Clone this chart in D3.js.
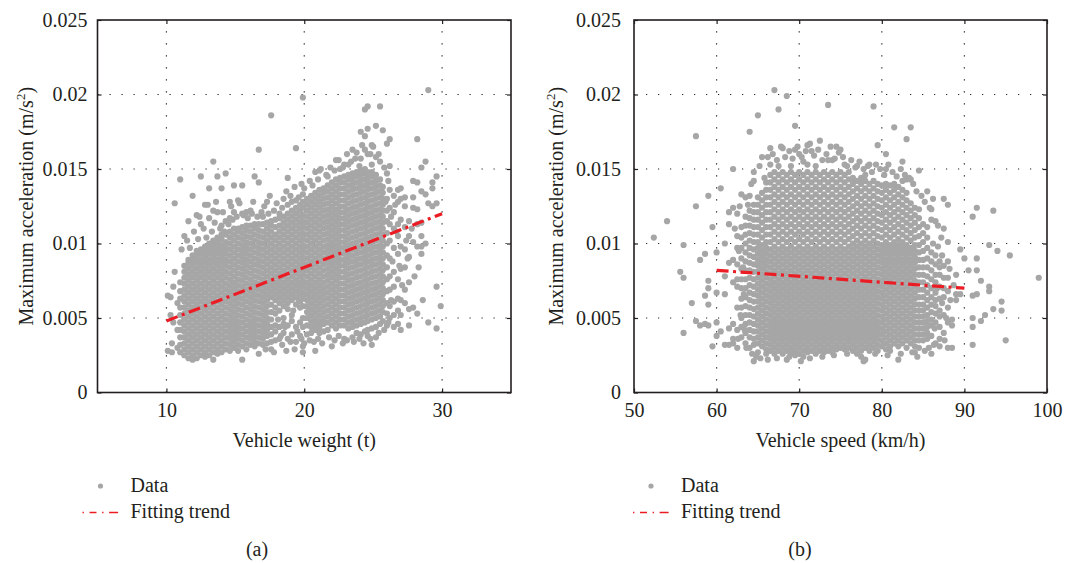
<!DOCTYPE html>
<html>
<head>
<meta charset="utf-8">
<script src="https://cdn.jsdelivr.net/npm/d3@7"></script>
<style>
  body { margin: 0; background: #fff; }
  svg text { font-family: "Liberation Serif", "Times New Roman", serif; fill: #231f20; }
</style>
</head>
<body>
<script>
// acceleration values are in units of 1e-4 m/s^2, grouped by x column
var weightCols = [
  [10.1, [65, 28]], [10.3, [64, 52]], [10.4, [33, 27]], [10.5, [47, 71]], [10.6, [127, 81]], [10.8, [60, 42, 30]],
  [11.0, [143, 74, 68, 63, 57, 52, 47, 42, 37, 32, 27]],
  [11.3, [105, 85, 81, 77, 73, 69, 65, 61, 57, 53, 49, 45, 41, 37, 33, 29, 25]],
  [11.6, [115, 89, 87, 83, 79, 75, 71, 67, 63, 59, 55, 51, 47, 43, 39, 35, 31, 27, 23]],
  [11.9, [132, 92, 89, 85, 81, 77, 73, 69, 65, 61, 57, 53, 49, 45, 41, 37, 33, 29, 25, 22]],
  [12.2, [119, 95, 91, 87, 83, 79, 75, 71, 67, 63, 59, 55, 51, 47, 43, 39, 35, 31, 27, 23]],
  [12.5, [145, 113, 96, 93, 89, 85, 81, 77, 73, 69, 65, 61, 57, 53, 49, 45, 41, 37, 33, 29, 25]],
  [12.8, [126, 98, 95, 91, 87, 83, 79, 75, 71, 67, 63, 59, 55, 51, 47, 43, 39, 35, 31, 27, 24]],
  [13.1, [137, 117, 100, 97, 93, 89, 85, 81, 77, 73, 69, 65, 61, 57, 53, 49, 45, 41, 37, 33, 29, 25]],
  [13.4, [155, 122, 102, 99, 95, 91, 87, 83, 79, 75, 71, 67, 63, 59, 55, 51, 47, 43, 39, 35, 31, 27, 22]],
  [13.7, [145, 121, 104, 101, 97, 93, 89, 85, 81, 77, 73, 69, 65, 61, 57, 53, 49, 45, 41, 37, 33, 29, 26]],
  [14.0, [137, 112, 106, 103, 99, 95, 91, 87, 83, 79, 75, 71, 67, 63, 59, 55, 51, 47, 43, 39, 35, 31, 27]],
  [14.3, [147, 115, 106, 101, 97, 93, 89, 85, 81, 77, 73, 69, 65, 61, 57, 53, 49, 45, 41, 37, 33, 29]],
  [14.6, [128, 117, 108, 104, 100, 96, 92, 88, 84, 80, 76, 72, 68, 64, 60, 56, 52, 48, 44, 40, 36, 32, 28]],
  [14.9, [139, 121, 110, 106, 102, 98, 94, 90, 86, 82, 78, 74, 70, 66, 62, 58, 54, 50, 46, 42, 38, 34, 30]],
  [15.2, [129, 110, 108, 104, 100, 96, 92, 88, 84, 80, 76, 72, 68, 64, 60, 56, 52, 48, 44, 40, 36, 32, 28]],
  [15.5, [139, 120, 111, 107, 103, 99, 95, 91, 87, 83, 79, 75, 71, 67, 63, 59, 55, 51, 47, 43, 39, 35, 31, 22]],
  [15.8, [121, 112, 109, 105, 101, 97, 93, 89, 85, 81, 77, 73, 69, 65, 61, 57, 53, 49, 45, 41, 37, 33, 29]],
  [16.1, [122, 112, 108, 104, 100, 96, 92, 88, 84, 80, 76, 72, 68, 64, 60, 56, 52, 48, 44, 40, 36, 32]],
  [16.4, [145, 113, 110, 106, 102, 98, 94, 90, 86, 82, 78, 74, 70, 66, 62, 58, 54, 50, 46, 42, 38, 34, 31]],
  [16.7, [163, 141, 113, 109, 105, 101, 97, 93, 89, 85, 81, 77, 73, 69, 65, 61, 57, 53, 49, 45, 41, 37, 33, 26]],
  [17.0, [118, 113, 108, 104, 100, 96, 92, 88, 84, 80, 76, 72, 68, 64, 60, 56, 52, 48, 44, 40, 36, 32]],
  [17.3, [128, 114, 110, 106, 102, 98, 94, 90, 86, 82, 78, 74, 70, 66, 62, 58, 54, 50, 46, 42, 38, 33]],
  [17.6, [186, 115, 112, 108, 104, 100, 96, 92, 88, 84, 80, 76, 72, 68, 64, 59, 54, 49, 44, 39, 34, 29]],
  [17.9, [116, 111, 106, 102, 98, 94, 90, 86, 82, 78, 74, 70, 66, 62, 57, 53, 45, 41, 35]],
  [18.2, [120, 117, 112, 108, 104, 100, 96, 92, 88, 84, 80, 76, 72, 68, 64, 60, 55, 44, 36]],
  [18.5, [130, 118, 114, 110, 106, 102, 98, 94, 90, 86, 82, 78, 74, 70, 66, 62, 58, 50, 46, 40]],
  [18.8, [144, 126, 120, 116, 112, 108, 104, 100, 96, 92, 88, 84, 80, 76, 72, 68, 64, 60, 56, 45, 36]],
  [19.1, [128, 122, 118, 114, 110, 106, 102, 98, 94, 90, 86, 82, 78, 74, 70, 66, 62, 52, 48, 39]],
  [19.4, [164, 129, 124, 120, 116, 112, 108, 104, 100, 96, 92, 88, 84, 80, 76, 72, 68, 64, 59, 44, 34]],
  [19.7, [126, 122, 118, 114, 110, 106, 102, 98, 94, 90, 86, 82, 78, 74, 70, 66, 61, 57, 47, 38]],
  [19.9, [198, 133, 128, 124, 119, 115, 111, 107, 103, 99, 95, 91, 87, 83, 79, 75, 71, 67, 63, 58, 50, 44, 31, 27]],
  [20.2, [130, 126, 122, 118, 114, 110, 106, 102, 98, 94, 90, 86, 82, 78, 74, 70, 66, 62, 58, 54, 50, 45, 39]],
  [20.5, [132, 128, 124, 120, 116, 112, 108, 104, 100, 96, 92, 88, 84, 80, 76, 72, 68, 64, 60, 56, 52, 48, 44, 40]],
  [20.8, [148, 134, 130, 126, 122, 118, 114, 110, 106, 102, 98, 94, 90, 86, 82, 78, 74, 70, 66, 62, 58, 54, 50, 46, 42, 28]],
  [21.1, [149, 136, 132, 128, 124, 120, 116, 112, 108, 104, 100, 96, 92, 88, 84, 80, 76, 72, 68, 64, 60, 56, 52, 48, 44, 40]],
  [21.4, [137, 134, 130, 126, 122, 118, 114, 110, 106, 102, 98, 94, 90, 86, 82, 78, 74, 70, 66, 62, 58, 54, 50, 46, 41]],
  [21.7, [145, 139, 135, 131, 127, 123, 119, 115, 111, 107, 103, 99, 95, 91, 87, 83, 79, 75, 71, 67, 63, 59, 55, 51, 47, 42]],
  [22.0, [141, 137, 133, 129, 125, 121, 117, 113, 109, 105, 101, 97, 93, 89, 85, 81, 77, 73, 69, 65, 61, 57, 53, 49, 45, 31]],
  [22.3, [156, 143, 139, 135, 131, 127, 123, 119, 115, 111, 107, 103, 99, 95, 91, 87, 83, 79, 75, 71, 67, 63, 59, 55, 51, 47, 43]],
  [22.6, [150, 144, 141, 137, 133, 129, 125, 121, 117, 113, 109, 105, 101, 97, 93, 89, 85, 81, 77, 73, 69, 65, 61, 57, 53, 49, 45]],
  [22.9, [153, 145, 141, 137, 133, 129, 125, 121, 117, 113, 109, 105, 101, 97, 93, 89, 85, 81, 77, 73, 69, 65, 61, 57, 53, 49, 45, 36]],
  [23.2, [153, 146, 143, 139, 135, 131, 127, 123, 119, 115, 111, 107, 103, 99, 95, 91, 87, 83, 79, 75, 71, 67, 63, 59, 55, 51, 47, 43]],
  [23.5, [163, 147, 144, 140, 136, 132, 128, 124, 120, 116, 112, 108, 104, 100, 96, 92, 88, 84, 80, 76, 72, 68, 64, 60, 56, 52, 48, 44, 37]],
  [23.8, [161, 148, 145, 141, 137, 133, 129, 125, 121, 117, 113, 109, 105, 101, 97, 93, 89, 85, 81, 77, 73, 69, 65, 61, 57, 53, 49, 45, 40]],
  [24.1, [175, 157, 149, 146, 142, 138, 134, 130, 126, 122, 118, 114, 110, 106, 102, 98, 94, 90, 86, 82, 78, 74, 70, 66, 62, 58, 54, 50, 46, 39]],
  [24.4, [190, 172, 163, 150, 147, 143, 139, 135, 131, 127, 123, 119, 115, 111, 107, 103, 99, 95, 91, 87, 83, 79, 75, 71, 67, 63, 59, 55, 51, 47, 41]],
  [24.6, [192, 177, 160, 148, 144, 140, 136, 132, 128, 124, 120, 116, 112, 108, 104, 100, 96, 92, 88, 84, 80, 76, 72, 68, 64, 60, 56, 52, 48, 42, 38]],
  [24.9, [166, 153, 148, 145, 141, 137, 133, 129, 125, 121, 117, 113, 109, 105, 101, 97, 93, 89, 85, 81, 77, 73, 69, 65, 61, 57, 53, 49, 43, 32]],
  [25.2, [179, 158, 146, 142, 138, 134, 130, 126, 122, 118, 114, 110, 106, 102, 98, 94, 90, 86, 82, 78, 74, 70, 66, 62, 58, 54, 50, 44]],
  [25.5, [192, 155, 143, 139, 135, 131, 127, 123, 119, 115, 111, 107, 103, 99, 95, 91, 87, 83, 79, 75, 71, 67, 63, 59, 55, 51, 46]],
  [25.7, [176, 138, 134, 130, 126, 122, 118, 114, 110, 106, 102, 98, 94, 90, 86, 82, 78, 74, 70, 66, 62, 58, 54, 48]],
  [26.0, [167, 147, 130, 122, 115, 107, 100, 92, 84, 76, 68, 60, 53, 45]],
  [26.2, [170, 152, 136, 124, 113, 102, 90, 78, 69, 58, 50]],
  [26.5, [132, 121, 110, 97, 81, 71, 61, 52, 44]],
  [26.8, [136, 128, 113, 105, 93, 76, 63, 55, 46]],
  [27.0, [137, 130, 116, 98, 83, 62, 52, 42]],
  [27.3, [131, 125, 111, 96, 84, 69, 60]],
  [27.6, [115, 105, 91, 74, 56, 45]],
  [27.9, [142, 131, 124, 101, 57]],
  [28.2, [170, 141, 123, 113, 98, 53]],
  [28.5, [151, 135, 114, 105, 98, 93]],
  [28.8, [155, 133, 100]],
  [29.0, [203, 127, 47]],
  [29.3, [141, 137, 125]],
  [29.6, [145, 127, 71, 43]],
  [29.9, [58]]
];

// scattered points round the edge of the weight cloud, [t, 1e-4 m/s^2]
var weightFringe = [
  [11.1, 96], [11.5, 102], [11.7, 97], [12.0, 108], [12.3, 103], [12.4, 118], [12.7, 110], [12.9, 104],
  [13.0, 126], [13.3, 108], [13.5, 114], [13.6, 128], [13.9, 110], [14.1, 121], [14.2, 108], [14.5, 113],
  [14.7, 125], [14.8, 116], [15.1, 118], [15.3, 127], [15.6, 119], [15.9, 117], [16.2, 120], [16.3, 128],
  [16.6, 118], [16.9, 121], [17.1, 125], [17.4, 120], [17.5, 132], [17.8, 122], [18.0, 127], [18.4, 124],
  [18.7, 135], [19.0, 132], [19.3, 138], [19.6, 131], [19.8, 140], [20.0, 137], [20.4, 142], [20.6, 139],
  [21.0, 143], [21.2, 150], [21.6, 146], [21.9, 151], [22.2, 149], [22.5, 156], [22.8, 151], [23.1, 160],
  [23.4, 155], [23.7, 157], [24.0, 152], [24.2, 166], [24.8, 160], [25.0, 165], [25.4, 160], [25.8, 151],
  [26.1, 142], [25.9, 128], [17.2, 29], [17.8, 27], [18.4, 32], [18.7, 28], [19.0, 34], [19.3, 29],
  [19.8, 36], [20.0, 33], [20.4, 35], [20.7, 34], [21.0, 36], [21.3, 33], [21.8, 37], [22.2, 35],
  [22.5, 38], [22.8, 33], [23.1, 35], [23.6, 34], [24.0, 36], [24.3, 33], [24.8, 36], [25.2, 37],
  [25.4, 40], [25.8, 42], [26.1, 47], [26.3, 62], [26.4, 88], [26.7, 108], [26.3, 118], [26.6, 126],
  [26.9, 85], [27.1, 72], [27.4, 102], [27.5, 90], [27.8, 110], [28.0, 78], [28.3, 84], [28.6, 62],
  [18.1, 49], [18.6, 44], [19.2, 55], [19.5, 41], [18.3, 38], [19.6, 62]
];

var speedCols = [
  [52.4, [104]], [54.0, [115]], [55.6, [81]], [56.0, [77, 99, 40]], [57.0, [60]],
  [57.5, [172, 125, 48]], [58.0, [89, 45]], [58.6, [93, 46, 65]], [59.0, [132, 75, 59, 70, 45]],
  [59.5, [111, 31]], [60.0, [94, 67, 47, 38]], [60.5, [137, 41]], [61.0, [100, 78, 66, 32]],
  [61.5, [121, 113, 87, 43, 32]],
  [62.0, [150, 124, 89, 74, 46, 36, 33]],
  [62.5, [120, 105, 97, 86, 76, 71, 57, 42, 30]],
  [63.0, [133, 111, 104, 97, 90, 83, 76, 70, 63, 57, 50, 44, 37]],
  [63.5, [131, 118, 112, 106, 100, 94, 88, 82, 76, 70, 64, 58, 52, 46, 40, 33]],
  [64.0, [175, 132, 122, 117, 112, 107, 102, 97, 92, 87, 82, 77, 72, 67, 62, 57, 52, 47, 42, 37, 30]],
  [64.5, [142, 126, 121, 116, 111, 106, 101, 96, 91, 86, 81, 76, 71, 66, 61, 56, 51, 46, 41, 36, 32, 21]],
  [65.0, [186, 131, 126, 121, 116, 111, 106, 101, 97, 93, 89, 85, 81, 77, 73, 69, 65, 61, 57, 53, 49, 45, 41, 37, 33, 27]],
  [65.5, [158, 134, 129, 124, 119, 114, 109, 104, 99, 95, 91, 87, 83, 79, 75, 71, 67, 63, 59, 55, 51, 47, 43, 39, 35, 31]],
  [66.0, [141, 136, 131, 126, 121, 116, 111, 106, 101, 97, 93, 89, 85, 81, 77, 73, 69, 65, 61, 57, 53, 49, 45, 41, 37, 33, 29, 26]],
  [66.5, [164, 153, 146, 141, 136, 131, 126, 121, 116, 111, 106, 101, 96, 92, 88, 84, 80, 76, 72, 68, 64, 60, 56, 52, 48, 44, 40, 36, 32, 28]],
  [67.0, [203, 148, 143, 138, 133, 128, 123, 118, 113, 108, 103, 98, 94, 90, 86, 82, 78, 74, 70, 66, 62, 58, 54, 50, 46, 42, 38, 34, 30, 26]],
  [67.5, [190, 152, 146, 141, 136, 131, 126, 121, 116, 111, 106, 101, 96, 92, 88, 84, 80, 76, 72, 68, 64, 60, 56, 52, 48, 44, 40, 36, 32, 28]],
  [68.0, [164, 148, 143, 138, 133, 128, 123, 118, 113, 108, 103, 98, 94, 90, 86, 82, 78, 74, 70, 66, 62, 58, 54, 50, 46, 42, 38, 34, 30, 26]],
  [68.5, [199, 146, 141, 136, 131, 126, 121, 116, 111, 106, 101, 96, 92, 88, 84, 80, 76, 72, 68, 64, 60, 56, 52, 48, 44, 40, 36, 32, 28, 22]],
  [69.0, [152, 148, 143, 138, 133, 128, 123, 118, 113, 108, 103, 98, 94, 90, 86, 82, 78, 74, 70, 66, 62, 58, 54, 50, 46, 42, 38, 34, 30, 27]],
  [69.5, [179, 163, 146, 141, 136, 131, 126, 121, 116, 111, 106, 101, 96, 92, 88, 84, 80, 76, 72, 68, 64, 60, 56, 52, 48, 44, 40, 36, 32, 28, 25]],
  [70.0, [160, 148, 143, 138, 133, 128, 123, 118, 113, 108, 103, 98, 94, 90, 86, 82, 78, 74, 70, 66, 62, 58, 54, 50, 46, 42, 38, 34, 30, 26]],
  [70.5, [155, 146, 141, 136, 131, 126, 121, 116, 111, 106, 101, 96, 92, 88, 84, 80, 76, 72, 68, 64, 60, 56, 52, 48, 44, 40, 36, 32, 28, 24]],
  [71.0, [166, 153, 148, 143, 138, 133, 128, 123, 118, 113, 108, 103, 98, 94, 90, 86, 82, 78, 74, 70, 66, 62, 58, 54, 50, 46, 42, 38, 34, 30, 27]],
  [71.5, [162, 146, 141, 136, 131, 126, 121, 116, 111, 106, 101, 96, 92, 88, 84, 80, 76, 72, 68, 64, 60, 56, 52, 48, 44, 40, 36, 32, 28]],
  [72.0, [152, 148, 143, 138, 133, 128, 123, 118, 113, 108, 103, 98, 94, 90, 86, 82, 78, 74, 70, 66, 62, 58, 54, 50, 46, 42, 38, 34, 30, 26]],
  [72.5, [169, 146, 141, 136, 131, 126, 121, 116, 111, 106, 101, 96, 92, 88, 84, 80, 76, 72, 68, 64, 60, 56, 52, 48, 44, 40, 36, 32, 28]],
  [73.0, [148, 143, 138, 133, 128, 123, 118, 113, 108, 103, 98, 94, 90, 86, 82, 78, 74, 70, 66, 62, 58, 54, 50, 46, 42, 38, 34, 30, 27]],
  [73.5, [193, 156, 146, 141, 136, 131, 126, 121, 116, 111, 106, 101, 96, 92, 88, 84, 80, 76, 72, 68, 64, 60, 56, 52, 48, 44, 40, 36, 32, 28]],
  [74.0, [156, 148, 143, 138, 133, 128, 123, 118, 113, 108, 103, 98, 94, 90, 86, 82, 78, 74, 70, 66, 62, 58, 54, 50, 46, 42, 38, 34, 30, 27]],
  [74.5, [165, 146, 141, 136, 131, 126, 121, 116, 111, 106, 101, 96, 92, 88, 84, 80, 76, 72, 68, 64, 60, 56, 52, 48, 44, 40, 36, 32, 29]],
  [75.0, [163, 148, 143, 138, 133, 128, 123, 118, 113, 108, 103, 98, 94, 90, 86, 82, 78, 74, 70, 66, 62, 58, 54, 50, 46, 42, 38, 34, 30]],
  [75.5, [153, 146, 141, 136, 131, 126, 121, 116, 111, 106, 101, 96, 92, 88, 84, 80, 76, 72, 68, 64, 60, 56, 52, 48, 44, 40, 36, 32, 29]],
  [76.0, [148, 143, 138, 133, 128, 123, 118, 113, 108, 103, 98, 94, 90, 86, 82, 78, 74, 70, 66, 62, 58, 54, 50, 46, 42, 38, 34, 30]],
  [76.5, [144, 140, 135, 130, 125, 120, 115, 110, 105, 100, 96, 92, 88, 84, 80, 76, 72, 68, 64, 60, 56, 52, 48, 44, 40, 36, 32, 28]],
  [77.0, [152, 142, 137, 132, 127, 122, 117, 112, 107, 102, 98, 94, 90, 86, 82, 78, 74, 70, 66, 62, 58, 54, 50, 46, 42, 38, 34, 30, 26]],
  [77.5, [144, 140, 135, 130, 125, 120, 115, 110, 105, 100, 96, 92, 88, 84, 80, 76, 72, 68, 64, 60, 56, 52, 48, 44, 40, 36, 32, 28, 24]],
  [78.0, [146, 142, 137, 132, 127, 122, 117, 112, 107, 102, 98, 94, 90, 86, 82, 78, 74, 70, 66, 62, 58, 54, 50, 46, 42, 38, 34, 30, 22]],
  [78.5, [153, 140, 135, 130, 125, 120, 115, 110, 105, 100, 96, 92, 88, 84, 80, 76, 72, 68, 64, 60, 56, 52, 48, 44, 40, 36, 32, 28]],
  [79.0, [192, 142, 137, 132, 127, 122, 117, 112, 107, 102, 98, 94, 90, 86, 82, 78, 74, 70, 66, 62, 58, 54, 50, 46, 42, 38, 34, 30]],
  [79.5, [166, 140, 135, 130, 125, 120, 115, 110, 105, 100, 96, 92, 88, 84, 80, 76, 72, 68, 64, 60, 56, 52, 48, 44, 40, 36, 32, 28]],
  [80.0, [139, 134, 129, 124, 119, 114, 109, 104, 99, 95, 91, 87, 83, 79, 75, 71, 67, 63, 59, 55, 51, 47, 43, 39, 35, 31]],
  [80.5, [160, 150, 140, 136, 131, 126, 121, 116, 111, 106, 101, 97, 93, 89, 85, 81, 77, 73, 69, 65, 61, 57, 53, 49, 45, 41, 37, 33, 29]],
  [81.0, [139, 134, 129, 124, 119, 114, 109, 104, 99, 95, 91, 87, 83, 79, 75, 71, 67, 63, 59, 55, 51, 47, 43, 39, 35, 31, 28]],
  [81.5, [178, 140, 136, 131, 126, 121, 116, 111, 106, 101, 97, 93, 89, 85, 81, 77, 73, 69, 65, 61, 57, 53, 49, 45, 41, 37, 33]],
  [82.0, [138, 133, 128, 123, 118, 113, 108, 103, 99, 95, 91, 87, 83, 79, 75, 71, 67, 63, 59, 55, 51, 47, 43, 39, 35, 31, 22]],
  [82.5, [155, 142, 136, 131, 126, 121, 116, 111, 106, 101, 97, 93, 89, 85, 81, 77, 73, 69, 65, 61, 57, 53, 49, 45, 41, 37, 33]],
  [83.0, [170, 143, 134, 129, 124, 119, 114, 109, 104, 99, 95, 91, 87, 83, 79, 75, 71, 67, 63, 59, 55, 51, 47, 43, 39, 35, 30]],
  [83.5, [178, 143, 127, 122, 117, 112, 107, 102, 97, 93, 89, 85, 81, 77, 73, 69, 65, 61, 57, 53, 49, 45, 41, 37, 33]],
  [84.0, [124, 119, 114, 109, 104, 99, 95, 91, 87, 83, 79, 75, 71, 67, 63, 59, 55, 51, 47, 43, 39, 35, 31, 27]],
  [84.5, [149, 123, 117, 111, 105, 99, 94, 89, 84, 79, 74, 69, 64, 59, 55, 51, 47, 43, 39, 35, 30]],
  [85.0, [113, 107, 101, 95, 89, 84, 79, 74, 69, 64, 59, 55, 51, 47, 43, 39, 35]],
  [85.5, [135, 111, 104, 97, 90, 84, 78, 72, 67, 62, 57, 52, 48, 44, 40, 36]],
  [86.0, [123, 116, 94, 88, 82, 76, 70, 64, 59, 54, 49, 45, 38, 26]],
  [86.5, [115, 92, 86, 79, 74, 67, 62, 58, 53, 47, 33]],
  [87.0, [88, 84, 79, 71, 63, 55, 51, 44, 36]],
  [87.5, [130, 110, 85, 77, 70, 64, 52, 40]],
  [88.0, [126, 101, 88, 77, 68, 57, 47, 30]],
  [88.5, [49, 45, 30]], [89.0, [79, 66, 62]], [89.5, [96, 66]], [90.0, [90]], [90.5, [82]],
  [91.0, [118, 65, 50, 44, 32]], [91.5, [124, 90, 82, 66]], [92.0, [75, 48]], [92.5, [52]],
  [93.0, [99, 71, 68]], [93.5, [122, 56]], [94.0, [95]], [94.5, [61, 55]], [95.0, [35]],
  [95.5, [92]], [99.0, [77]]
];

// scattered points round the edge of the speed cloud, [km/h, 1e-4 m/s^2]
var speedFringe = [
  [64.5, 148], [65.2, 152], [65.8, 144], [66.2, 158], [66.8, 160], [67.3, 156], [67.8, 165], [68.3, 158],
  [68.8, 162], [69.2, 157], [69.8, 165], [70.3, 158], [70.8, 162], [71.3, 167], [71.8, 159], [72.3, 163],
  [72.8, 156], [73.3, 160], [73.8, 165], [74.3, 157], [74.8, 161], [75.3, 158], [75.8, 152], [76.3, 156],
  [76.8, 151], [77.3, 155], [77.8, 150], [78.3, 152], [78.8, 148], [79.3, 153], [79.8, 150], [80.3, 146],
  [80.8, 153], [81.3, 148], [81.8, 145], [82.3, 150], [82.8, 146], [83.3, 144], [83.8, 140], [84.2, 135],
  [84.8, 132], [85.2, 128], [85.8, 124], [86.2, 130], [86.8, 112], [87.2, 104],
  [62.2, 110], [62.8, 125], [62.7, 95], [63.2, 84], [63.3, 66], [62.9, 52], [63.4, 42], [62.6, 36],
  [63.8, 126], [64.2, 140], [63.6, 30], [64.3, 26], [64.8, 24], [65.3, 23],
  [86.2, 100], [86.8, 98], [87.3, 92], [86.7, 70], [87.3, 60], [87.8, 50], [86.4, 43], [87.0, 31],
  [87.6, 35], [88.3, 62], [88.7, 72], [88.2, 83], [85.7, 30], [86.3, 32], [85.2, 28],
  [66.2, 22], [67.3, 23], [68.8, 24], [70.2, 21], [71.3, 23], [72.8, 24], [74.2, 25], [75.8, 26],
  [77.8, 21], [79.2, 26], [80.7, 25], [82.3, 26], [83.7, 27], [84.3, 24]
];

var weightTrend = [[10, 0.0048], [30, 0.0120]];
var speedTrend = [[60, 0.0082], [90, 0.0070]];

var accTicks = [0, 0.005, 0.01, 0.015, 0.02, 0.025];
var weightTicks = [10, 20, 30];
var speedTicks = [50, 60, 70, 80, 90, 100];

var w = 1068, h = 563;
var top0 = 20, bottom0 = 392.5;
var gray = "#a6a6a6", red = "#ec1c24", ink = "#231f20";

var svg = d3.select("body").append("svg").attr("width", w).attr("height", h);

var yScale = d3.scaleLinear().domain([0, 0.025]).range([bottom0, top0]);

function flatten(cols, extra) {
  var pts = [];
  cols.forEach(function(c) {
    c[1].forEach(function(v) { pts.push([c[0], v / 10000]); });
  });
  extra.forEach(function(d) { pts.push([d[0], d[1] / 10000]); });
  return pts;
}

function drawPanel(p) {
  var xScale = d3.scaleLinear().domain(p.domain).range([p.left, p.right]);
  var g = svg.append("g");
  var inner = p.ticks.filter(function(t) { return t > p.domain[0] && t < p.domain[1]; });
  var innerY = accTicks.filter(function(t) { return t > 0 && t < 0.025; });

  // dotted grid
  g.selectAll(".gx").data(inner).enter().append("line")
    .attr("x1", function(d) { return xScale(d); }).attr("x2", function(d) { return xScale(d); })
    .attr("y1", bottom0).attr("y2", top0)
    .attr("stroke", ink).attr("stroke-width", 1.2).attr("stroke-dasharray", "1.2,10.8");
  g.selectAll(".gy").data(innerY).enter().append("line")
    .attr("x1", p.left).attr("x2", p.right)
    .attr("y1", function(d) { return yScale(d); }).attr("y2", function(d) { return yScale(d); })
    .attr("stroke", ink).attr("stroke-width", 1.2).attr("stroke-dasharray", "1.2,10.8");

  // points
  g.append("g").selectAll("circle")
    .data(flatten(p.cols, p.fringe))
    .enter().append("circle")
    .attr("cx", function(d) { return xScale(d[0]); })
    .attr("cy", function(d) { return yScale(d[1]); })
    .attr("r", 3.1)
    .attr("fill", gray);

  // fitting trend
  g.append("path")
    .datum(p.trend)
    .attr("d", d3.line().x(function(d) { return xScale(d[0]); }).y(function(d) { return yScale(d[1]); }))
    .attr("fill", "none").attr("stroke", red).attr("stroke-width", 3.2)
    .attr("stroke-dasharray", "12,4.5,3,4.5");

  // axes with inward ticks on all sides
  var xb = g.append("g").attr("transform", "translate(0," + bottom0 + ")")
    .call(d3.axisBottom(xScale).tickValues(p.ticks).tickSizeInner(-4).tickSizeOuter(0).tickPadding(10));
  var yl = g.append("g").attr("transform", "translate(" + p.left + ",0)")
    .call(d3.axisLeft(yScale).tickValues(accTicks).tickSizeInner(-4).tickSizeOuter(0).tickPadding(p.ypad)
      .tickFormat(function(d) { return String(+d.toFixed(3)); }));
  var xt = g.append("g").attr("transform", "translate(0," + top0 + ")")
    .call(d3.axisTop(xScale).tickValues(p.ticks).tickSizeInner(-4).tickSizeOuter(0).tickFormat(""));
  var yr = g.append("g").attr("transform", "translate(" + p.right + ",0)")
    .call(d3.axisRight(yScale).tickValues(accTicks).tickSizeInner(-4).tickSizeOuter(0).tickFormat(""));
  [xb, yl, xt, yr].forEach(function(a) {
    a.select(".domain").remove();
    a.selectAll("line").attr("stroke", ink).attr("stroke-width", 1.2);
    a.selectAll("text").attr("font-size", 20).attr("font-family", "Liberation Serif, serif").attr("fill", ink);
  });
  xb.selectAll("text").attr("dy", "0.71em");

  g.append("rect")
    .attr("x", p.left).attr("y", top0)
    .attr("width", p.right - p.left).attr("height", bottom0 - top0)
    .attr("fill", "none").attr("stroke", ink).attr("stroke-width", 1.6);

  // axis titles
  g.append("text")
    .attr("x", (p.left + p.right) / 2).attr("y", 447)
    .attr("text-anchor", "middle").attr("font-size", 20)
    .text(p.xlabel);
  var yt = g.append("text")
    .attr("transform", "translate(" + p.ylabelX + "," + ((top0 + bottom0) / 2) + ") rotate(-90)")
    .attr("text-anchor", "middle").attr("font-size", 20);
  yt.append("tspan").text("Maximum acceleration (m/s");
  yt.append("tspan").attr("font-size", 13).attr("dy", -8).text("2");
  yt.append("tspan").attr("dy", 8).text(")");

  // legend
  var lg = g.append("g");
  lg.append("circle").attr("cx", p.legX + 18).attr("cy", 486).attr("r", 2.6).attr("fill", gray);
  lg.append("text").attr("x", p.legX + 48).attr("y", 492).attr("font-size", 20).text("Data");
  lg.append("line").attr("x1", p.legX).attr("x2", p.legX + 36).attr("y1", 512.5).attr("y2", 512.5)
    .attr("stroke", red).attr("stroke-width", 1.6).attr("stroke-dasharray", "1.4,5.6,7,5.6,1.4,5.6,9");
  lg.append("text").attr("x", p.legX + 48).attr("y", 518).attr("font-size", 20).text("Fitting trend");

  g.append("text").attr("x", p.capX).attr("y", 556).attr("text-anchor", "middle")
    .attr("font-size", 20).text(p.caption);
}

drawPanel({
  domain: [5, 35], left: 97.5, right: 511, ticks: weightTicks, cols: weightCols, fringe: weightFringe,
  trend: weightTrend, xlabel: "Vehicle weight (t)", ylabelX: 33, ypad: 10,
  legX: 82.5, capX: 257, caption: "(a)"
});
drawPanel({
  domain: [50, 100], left: 634, right: 1047, ticks: speedTicks, cols: speedCols, fringe: speedFringe,
  trend: speedTrend, xlabel: "Vehicle speed (km/h)", ylabelX: 563, ypad: 13,
  legX: 633, capX: 800, caption: "(b)"
});
</script>
</body>
</html>
